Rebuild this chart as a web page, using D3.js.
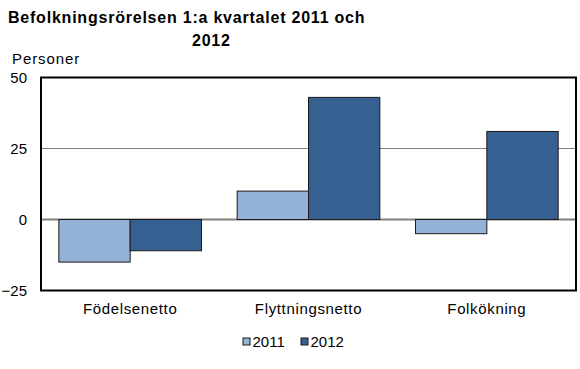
<!DOCTYPE html>
<html><head><meta charset="utf-8">
<script src="https://cdn.jsdelivr.net/npm/d3@7"></script>
<style>body{margin:0;background:#fff}svg{display:block;font-family:"Liberation Sans",Arial,sans-serif}</style>
</head><body>
<svg id="c" width="580" height="369"></svg>
<script>
const categories = ["Födelsenetto", "Flyttningsnetto", "Folkökning"];
const seriesNames = ["2011", "2012"];
const values2011 = [-15, 10, -5];
const values2012 = [-11, 43, 31];
const yTicks = [-25, 0, 25, 50];
const colors = ["#95B3D7", "#366092"];

const svg = d3.select("#c");
const L = 41, R = 576, T = 77.5, B = 290.5;
const x = d3.scaleBand().domain(categories).range([L, R]).paddingInner(0.2).paddingOuter(0.1);
const xs = d3.scaleBand().domain(seriesNames).range([0, x.bandwidth()]);
const y = d3.scaleLinear().domain([-25, 50]).range([B, T]);

// gridlines
svg.append("g").selectAll("line").data(yTicks.filter(d => d !== 0 && d !== 50 && d !== -25)).join("line")
  .attr("x1", L).attr("x2", R).attr("y1", d => y(d)).attr("y2", d => y(d))
  .attr("stroke", "#808080").attr("stroke-width", 1);

// zero line
svg.append("line").attr("x1", L).attr("x2", R).attr("y1", y(0)).attr("y2", y(0))
  .attr("stroke", "#808080").attr("stroke-width", 2);

const data = categories.map((c, i) => ({c, vals: [values2011[i], values2012[i]]}));
const g = svg.append("g");
data.forEach(d => {
  d.vals.forEach((v, j) => {
    g.append("rect")
      .attr("x", x(d.c) + xs(seriesNames[j]))
      .attr("width", xs.bandwidth())
      .attr("y", y(Math.max(0, v)))
      .attr("height", Math.abs(y(v) - y(0)))
      .attr("fill", colors[j])
      .attr("stroke", "#1a1a1a").attr("stroke-width", 1);
  });
});

// frame
svg.append("rect").attr("x", L).attr("y", T).attr("width", R - L).attr("height", B - T)
  .attr("fill", "none").attr("stroke", "#000").attr("stroke-width", 2);

// y axis labels
const yAxis = d3.axisLeft(y).tickValues(yTicks).tickSize(0).tickPadding(14);
const ya = svg.append("g").attr("transform", `translate(${L},0)`).call(yAxis);
ya.select(".domain").remove();
ya.selectAll("text").attr("font-size", 15).attr("fill", "#000").attr("font-family", "Liberation Sans, Arial, sans-serif");

// x axis labels
const xAxis = d3.axisBottom(x).tickSize(0).tickPadding(13);
const xa = svg.append("g").attr("transform", `translate(0,${B})`).call(xAxis);
xa.select(".domain").remove();
xa.selectAll("text").attr("font-size", 15).attr("letter-spacing", "0.65px").attr("fill", "#000")
  .attr("font-family", "Liberation Sans, Arial, sans-serif");

// title
svg.append("text").attr("x", 8).attr("y", 23).attr("font-size", 16).attr("font-weight", "bold")
  .attr("letter-spacing", "0.78px")
  .text("Befolkningsrörelsen 1:a kvartalet 2011 och");
svg.append("text").attr("x", 192).attr("y", 45.5).attr("font-size", 16).attr("font-weight", "bold")
  .attr("letter-spacing", "0.78px").text("2012");
svg.append("text").attr("x", 12).attr("y", 63.5).attr("font-size", 15).attr("letter-spacing", "0.9px").text("Personer");

// legend
const leg = svg.append("g");
const legItems = [{n: seriesNames[0], x: 243}, {n: seriesNames[1], x: 301}];
legItems.forEach((it, i) => {
  leg.append("rect").attr("x", it.x).attr("y", 338).attr("width", 7).attr("height", 7)
    .attr("fill", colors[i]).attr("stroke", "#1a1a1a").attr("stroke-width", 1);
  leg.append("text").attr("x", it.x + 9.5).attr("y", 346.5).attr("font-size", 15).text(it.n);
});
</script>
</body></html>
